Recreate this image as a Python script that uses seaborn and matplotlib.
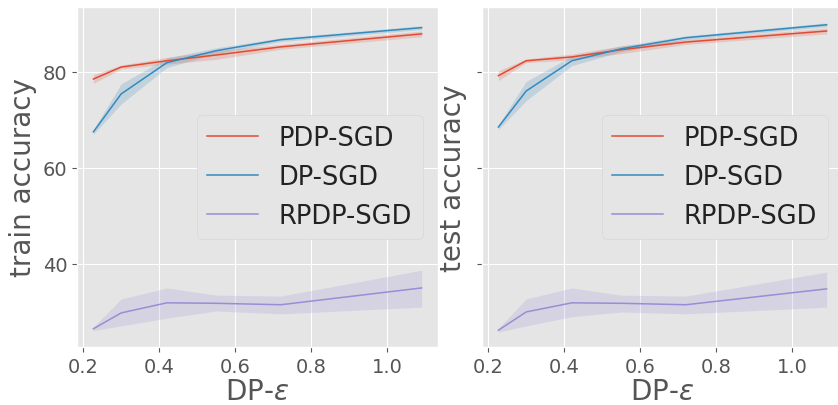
import numpy as np
import pandas as pd
import matplotlib
matplotlib.use('Agg')
import matplotlib.pyplot as plt
import seaborn as sns

plt.style.use('ggplot')

# DP-epsilon values
eps = [0.227, 0.30, 0.42, 0.55, 0.72, 1.09]
methods = ['PDP-SGD', 'DP-SGD', 'RPDP-SGD']
colors = ['#E24A33', '#348ABD', '#988ED5']

# train accuracy: mean, lower, upper
train_pdp = [78.5, 81.0, 82.3, 83.5, 85.2, 87.9]
train_pdp_lo = [77.6, 80.6, 81.6, 82.6, 84.7, 87.3]
train_pdp_hi = [79.4, 81.4, 83.0, 84.4, 85.7, 88.5]
train_dp = [67.5, 75.4, 81.9, 84.4, 86.7, 89.2]
train_dp_lo = [67.0, 73.3, 80.9, 83.8, 86.3, 88.8]
train_dp_hi = [68.0, 77.5, 82.9, 85.0, 87.1, 89.6]
train_rpdp = [26.5, 29.8, 31.9, 31.8, 31.5, 35.0]
train_rpdp_lo = [26.1, 27.1, 28.7, 30.2, 29.6, 31.0]
train_rpdp_hi = [26.9, 32.7, 35.0, 33.5, 33.3, 38.7]

# test accuracy: mean, lower, upper
test_pdp = [79.2, 82.3, 83.1, 84.6, 86.2, 88.5]
test_pdp_lo = [78.2, 81.9, 82.5, 83.8, 85.7, 87.9]
test_pdp_hi = [80.2, 82.7, 83.7, 85.4, 86.7, 89.1]
test_dp = [68.5, 76.0, 82.3, 84.8, 87.1, 89.8]
test_dp_lo = [68.0, 74.0, 81.3, 84.2, 86.7, 89.4]
test_dp_hi = [69.0, 78.0, 83.3, 85.4, 87.5, 90.2]
test_rpdp = [26.2, 30.0, 31.9, 31.8, 31.5, 34.8]
test_rpdp_lo = [25.8, 27.1, 29.0, 30.0, 29.6, 31.0]
test_rpdp_hi = [26.6, 32.7, 35.0, 33.5, 33.3, 38.3]

panels = [
    ('train accuracy',
     [train_pdp, train_dp, train_rpdp],
     [train_pdp_lo, train_dp_lo, train_rpdp_lo],
     [train_pdp_hi, train_dp_hi, train_rpdp_hi]),
    ('test accuracy',
     [test_pdp, test_dp, test_rpdp],
     [test_pdp_lo, test_dp_lo, test_rpdp_lo],
     [test_pdp_hi, test_dp_hi, test_rpdp_hi]),
]

fig = plt.figure(figsize=(8.38, 4.06), dpi=100)
fig.patch.set_facecolor('white')
W, H = 838, 406
rects = [[77 / W, 1 - 348 / H, 361 / W, 340 / H],
         [482 / W, 1 - 348 / H, 361 / W, 340 / H]]

for i, (ylab, means, los, his) in enumerate(panels):
    ax = fig.add_axes(rects[i])
    for m, mean, lo, hi, c in zip(methods, means, los, his, colors):
        df = pd.DataFrame({'eps': eps, 'acc': mean})
        sns.lineplot(data=df, x='eps', y='acc', ax=ax, color=c, label=m, linewidth=1.1)
        ax.fill_between(eps, lo, hi, color=c, alpha=0.2, linewidth=0)
    ax.set_ylim(22.7, 93.5)
    ax.set_xticks([0.2, 0.4, 0.6, 0.8, 1.0])
    ax.set_yticks([40, 60, 80])
    ax.tick_params(labelsize=14, colors='#555555')
    ax.set_xlabel(r'DP-$\varepsilon$', fontsize=20, color='#555555', labelpad=1)
    ax.set_ylabel(ylab, fontsize=20, color='#555555')
    if i == 1:
        ax.set_yticklabels([])
    leg = ax.legend(loc='center right', fontsize=18.5, facecolor='#E5E5E5',
                    edgecolor='#D8D8D8', framealpha=1.0, borderaxespad=0.6)
    for t in leg.get_texts():
        t.set_color('#222222')

plt.savefig('out.png', dpi=100)
plt.close()
